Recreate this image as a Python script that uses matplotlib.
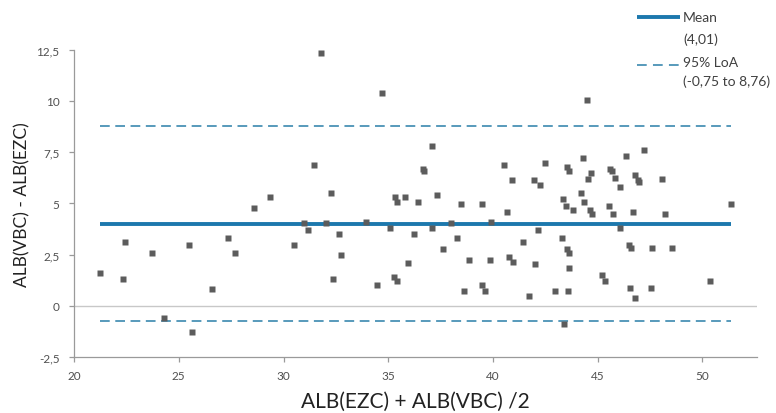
import matplotlib
matplotlib.use("Agg")
import matplotlib.pyplot as plt
from matplotlib.lines import Line2D

plt.rcParams["font.family"] = ["Lato", "DejaVu Sans"]
plt.rcParams["lines.scale_dashes"] = False

# mean of the two methods (x) and their difference (y)
avg = [21.23, 22.33, 22.43, 23.70, 24.29, 25.50, 25.65, 26.61, 27.37, 27.69,
       28.58, 29.34, 30.50, 30.99, 31.15, 31.46, 31.81, 32.01, 32.26, 32.36,
       32.66, 32.76, 33.93, 34.47, 34.68, 35.08, 35.29, 35.33, 35.40, 35.43,
       35.81, 35.93, 36.24, 36.44, 36.65, 36.72, 37.10, 37.10, 37.32, 37.60,
       38.00, 38.30, 38.47, 38.63, 38.86, 39.48, 39.48, 39.64, 39.87, 39.92,
       40.53, 40.67, 40.77, 40.93, 40.94, 41.43, 41.73, 41.95, 41.99, 42.15,
       42.25, 42.48, 42.94, 43.29, 43.34, 43.40, 43.49, 43.54, 43.54, 43.59,
       43.65, 43.65, 43.65, 43.80, 44.20, 44.28, 44.36, 44.49, 44.55, 44.61,
       44.70, 44.72, 45.21, 45.35, 45.52, 45.61, 45.68, 45.73, 45.84, 46.07,
       46.07, 46.33, 46.47, 46.53, 46.58, 46.68, 46.77, 46.79, 46.93, 46.97,
       47.19, 47.54, 47.59, 48.07, 48.23, 48.53, 50.35, 51.36]
diff = [1.61, 1.30, 3.09, 2.58, -0.60, 2.99, -1.30, 0.80, 3.30, 2.58,
        4.78, 5.30, 2.99, 4.02, 3.71, 6.88, 12.36, 4.03, 5.50, 1.30,
        3.51, 2.49, 4.11, 0.99, 10.37, 3.82, 1.40, 5.30, 1.20, 5.07,
        5.30, 2.11, 3.51, 5.09, 6.67, 6.57, 7.80, 3.80, 5.40, 2.78,
        4.02, 3.30, 4.99, 0.70, 2.23, 4.99, 0.99, 0.70, 2.23, 4.11,
        6.88, 4.57, 2.37, 6.12, 2.13, 3.09, 0.49, 6.12, 2.03, 3.71,
        5.90, 6.99, 0.70, 3.30, 5.20, -0.89, 4.89, 6.78, 2.78, 0.70,
        6.59, 2.58, 1.82, 4.68, 5.51, 7.19, 5.09, 10.05, 6.20, 4.68,
        6.47, 4.47, 1.51, 1.20, 4.88, 6.68, 6.59, 4.47, 6.26, 5.80,
        3.80, 7.29, 2.99, 0.89, 2.80, 4.57, 6.38, 0.38, 6.15, 6.02,
        7.60, 0.89, 2.80, 6.20, 4.47, 2.80, 1.20, 4.98]

mean_diff = 4.01
loa_low = -0.75
loa_high = 8.76

xticks = [20, 25, 30, 35, 40, 45, 50]
yticks = [-2.5, 0, 2.5, 5, 7.5, 10, 12.5]
ytick_labels = ["-2,5", "0", "2,5", "5", "7,5", "10", "12,5"]

blue = "#1c78ad"
dash_blue = "#2a7ea8"
grey = "#5c5c5c"

fig = plt.figure(figsize=(7.76, 4.14), dpi=100)
ax = fig.add_axes([0.0954, 0.1353, 0.8800, 0.7422])

x0, x1 = min(avg), max(avg)
ax.axhline(0, color="#c8c8c8", lw=1, zorder=1)
ax.plot([x0, x1], [loa_high, loa_high], color=dash_blue, lw=1.1, dashes=(7, 4), zorder=2)
ax.plot([x0, x1], [loa_low, loa_low], color=dash_blue, lw=1.1, dashes=(7, 4), zorder=2)
ax.plot([x0, x1], [mean_diff, mean_diff], color=blue, lw=2.8, solid_capstyle="butt", zorder=2)
ax.plot(avg, diff, "s", color=grey, ms=4.3, mec="none", zorder=3)

ax.set_xlim(20, 52.6)
ax.set_ylim(-2.5, 12.5)
ax.set_xticks(xticks)
ax.set_yticks(yticks)
ax.set_yticklabels(ytick_labels)
ax.tick_params(axis="both", colors="#9a9a9a", labelcolor="#505050", labelsize=8.5, length=3.5, width=0.9)
ax.tick_params(axis="y", pad=7)
ax.tick_params(axis="x", pad=6)

for s in ["top", "right"]:
    ax.spines[s].set_visible(False)
for s in ["left", "bottom"]:
    ax.spines[s].set_color("#9a9a9a")
    ax.spines[s].set_linewidth(0.9)

ax.set_xlabel("ALB(EZC) + ALB(VBC) /2", fontsize=15, color="#222222", labelpad=7)
ax.set_ylabel("ALB(VBC) - ALB(EZC)", fontsize=12.5, color="#222222", labelpad=4)

# legend drawn by hand, outside the axes at top right
W, H = 776.0, 414.0
fig.add_artist(Line2D([637 / W, 680 / W], [1 - 18 / H, 1 - 18 / H], color=blue, lw=2.8,
                      solid_capstyle="butt"))
fig.add_artist(Line2D([637 / W, 679 / W], [1 - 65.5 / H, 1 - 65.5 / H], color=dash_blue, lw=1.1,
                      dashes=(7, 4.5)))
legend_text = [("Mean", 18), ("(4,01)", 40), ("95% LoA", 63), ("(-0,75 to 8,76)", 82)]
for txt, yy in legend_text:
    fig.text(683 / W, 1 - yy / H, txt, fontsize=10, color="#404040", va="center", ha="left")

fig.savefig("out.png", dpi=100)
